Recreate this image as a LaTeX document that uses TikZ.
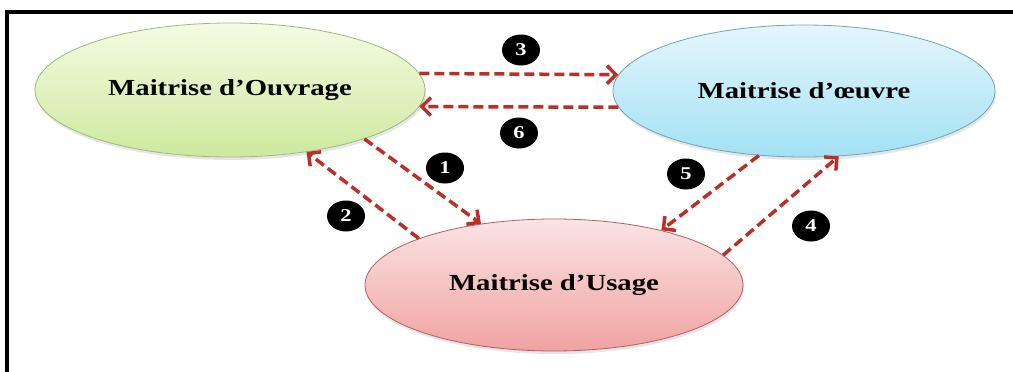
\documentclass[tikz,border=0pt]{standalone}
\usepackage{fontspec}
\setmainfont{Liberation Serif}
\usepackage{graphicx}
\usepackage{tikz}
\usetikzlibrary{shapes.geometric, arrows.meta, shadows}

\definecolor{ouvHaut}{HTML}{F5FBE2}
\definecolor{ouvBas}{HTML}{CDE9A0}
\definecolor{ouvBord}{HTML}{9DBA78}
\definecolor{oeuHaut}{HTML}{E4F6FC}
\definecolor{oeuBas}{HTML}{A3E1F4}
\definecolor{oeuBord}{HTML}{6FA3B5}
\definecolor{usaHaut}{HTML}{FBE4E4}
\definecolor{usaBas}{HTML}{F0A2A2}
\definecolor{usaBord}{HTML}{B85C5C}
\definecolor{rougeFleche}{HTML}{BE2E28}

\newcommand{\elargi}[1]{\scalebox{1.25}[1]{#1}}

\begin{document}
\begin{tikzpicture}[x=1pt, y=-1pt, >={Straight Barb[length=9pt, width=18pt, line width=3.5pt]},
    ovale/.style={ellipse, inner sep=0pt, line width=0.8pt, font=\fontsize{23}{27}\selectfont\bfseries,
        drop shadow={shadow xshift=1pt, shadow yshift=-3pt, opacity=0.2}},
    num/.style={ellipse, fill=black, text=white, inner sep=0pt, minimum width=38pt, minimum height=31pt,
        font=\fontsize{18}{20}\selectfont\bfseries},
    fleche/.style={->, draw=rougeFleche, line width=3.5pt, dash pattern=on 10pt off 5pt}]
    \useasboundingbox (0,0) rectangle (1013,372);
    % Frame
    \draw[line width=3.5pt] (7,372) -- (7,12) -- (1013,12);
    % The three actors
    \node[ovale, draw=ouvBord, top color=ouvHaut, bottom color=ouvBas, minimum width=390pt, minimum height=134pt] (ouv) at (230,90) {\elargi{Maitrise d’Ouvrage}};
    \node[ovale, draw=oeuBord, top color=oeuHaut, bottom color=oeuBas, minimum width=382pt, minimum height=132pt] (oeu) at (804,91) {\elargi{Maitrise d’œuvre}};
    \node[ovale, draw=usaBord, top color=usaHaut, bottom color=usaBas, minimum width=378pt, minimum height=132pt] (usa) at (554,285) {\elargi{Maitrise d’Usage}};
    % Exchanges
    \draw[fleche] (ouv.-20) -- (usa.140);
    \draw[fleche] (usa.161) -- (ouv.-39);
    \draw[fleche] (ouv.5) -- (oeu.175);
    \draw[fleche] (usa.10) -- (oeu.-62);
    \draw[fleche] (oeu.-125) -- (usa.27);
    \draw[fleche] (oeu.-175) -- (ouv.-5);
    % Numbers
    \node[num] (n1) at (445,168) {\elargi{1}};
    \node[num] (n2) at (346,216) {\elargi{2}};
    \node[num] (n3) at (521,50) {\elargi{3}};
    \node[num] (n4) at (811,226) {\elargi{4}};
    \node[num] (n5) at (686,174) {\elargi{5}};
    \node[num] (n6) at (519,133) {\elargi{6}};
\end{tikzpicture}
\end{document}
